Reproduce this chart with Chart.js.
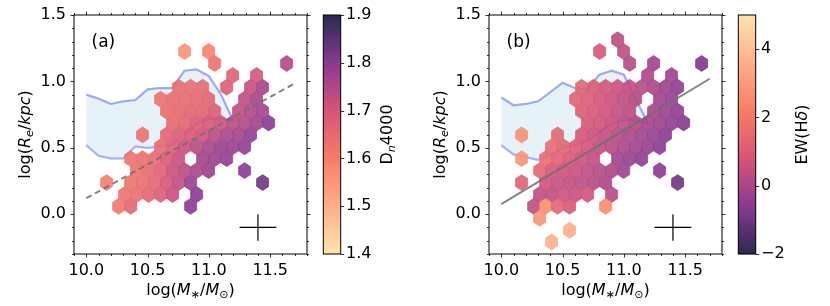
<!DOCTYPE html>
<html>
<head>
<meta charset="utf-8">
<script src="https://cdn.jsdelivr.net/npm/chart.js@4.4.1/dist/chart.umd.min.js"></script>
<style>
  body { margin: 0; background: #fff; }
  .panel { position: absolute; top: 0; width: 415px; height: 306px; }
</style>
</head>
<body>
<div class="panel" style="left:0"><canvas id="chartA" width="415" height="306"></canvas></div>
<div class="panel" style="left:415px"><canvas id="chartB" width="415" height="306"></canvas></div>
<script>
var xTicks = [10.0, 10.5, 11.0, 11.5];
var yTicks = [0.0, 0.5, 1.0, 1.5];
var dnTicks = [1.4, 1.5, 1.6, 1.7, 1.8, 1.9];
var ewTicks = [-2, 0, 2, 4];

// envelope of the comparison sample (blue region)
var envMass   = [10.0, 10.1, 10.2, 10.3, 10.4, 10.5, 10.6, 10.7, 10.8, 10.9, 11.0, 11.1, 11.2];
var envUpperA = [0.90, 0.87, 0.83, 0.85, 0.86, 0.94, 0.95, 0.95, 1.08, 1.09, 1.04, 0.90, 0.70];
var envLowerA = [0.52, 0.44, 0.42, 0.42, 0.51, 0.50, 0.51, 0.52, 0.60, 0.68, 0.72, 0.72, 0.70];
var envUpperB = [0.88, 0.82, 0.83, 0.85, 0.92, 0.99, 0.95, 0.94, 1.05, 1.08, 1.05, 0.86, 0.68];
var envLowerB = [0.52, 0.45, 0.43, 0.41, 0.45, 0.50, 0.52, 0.55, 0.62, 0.68, 0.71, 0.71, 0.68];

// best-fit relations
var fitA = [[10.0, 0.12], [11.7, 0.985]];
var fitB = [[10.0, 0.075], [11.7, 1.02]];

// typical error bar
var errCentre = [11.4, -0.1];
var errHalf = [0.15, 0.1];

// hexbin cells: [log M*, log Re, Dn4000]
var hexA = [
  [10.802, 1.225, 1.56], [10.998, 1.225, 1.59],
  [11.047, 1.135, 1.63], [11.634, 1.135, 1.75],
  [11.194, 1.045, 1.67], [11.389, 1.045, 1.70],
  [10.753, 0.956, 1.64], [10.851, 0.956, 1.64], [10.949, 0.956, 1.65], [11.145, 0.956, 1.68], [11.340, 0.956, 1.72], [11.438, 0.956, 1.76],
  [10.606, 0.866, 1.63], [10.704, 0.866, 1.64], [10.802, 0.866, 1.65], [10.900, 0.866, 1.65], [10.998, 0.866, 1.66], [11.291, 0.866, 1.73], [11.389, 0.866, 1.76],
  [10.655, 0.776, 1.64], [10.753, 0.776, 1.65], [10.851, 0.776, 1.66], [10.949, 0.776, 1.66], [11.047, 0.776, 1.68], [11.242, 0.776, 1.73], [11.340, 0.776, 1.75], [11.438, 0.776, 1.77],
  [10.704, 0.687, 1.65], [10.802, 0.687, 1.66], [10.900, 0.687, 1.68], [10.998, 0.687, 1.70], [11.096, 0.687, 1.71], [11.194, 0.687, 1.74], [11.291, 0.687, 1.75], [11.389, 0.687, 1.77], [11.487, 0.687, 1.80],
  [10.459, 0.597, 1.63], [10.655, 0.597, 1.66], [10.753, 0.597, 1.68], [10.851, 0.597, 1.70], [10.949, 0.597, 1.71], [11.047, 0.597, 1.74], [11.145, 0.597, 1.76], [11.242, 0.597, 1.77], [11.340, 0.597, 1.79],
  [10.606, 0.507, 1.65], [10.704, 0.507, 1.68], [10.802, 0.507, 1.72], [10.900, 0.507, 1.74], [10.998, 0.507, 1.76], [11.096, 0.507, 1.78], [11.194, 0.507, 1.78], [11.291, 0.507, 1.79],
  [10.362, 0.418, 1.63], [10.459, 0.418, 1.64], [10.557, 0.418, 1.65], [10.655, 0.418, 1.69], [10.753, 0.418, 1.72], [10.949, 0.418, 1.77], [11.047, 0.418, 1.78], [11.145, 0.418, 1.79],
  [10.410, 0.328, 1.63], [10.508, 0.328, 1.65], [10.606, 0.328, 1.67], [10.704, 0.328, 1.72], [10.802, 0.328, 1.74], [10.900, 0.328, 1.76], [10.998, 0.328, 1.78], [11.291, 0.328, 1.80],
  [10.166, 0.238, 1.60], [10.362, 0.238, 1.63], [10.459, 0.238, 1.64], [10.557, 0.238, 1.66], [10.655, 0.238, 1.70], [10.753, 0.238, 1.73], [10.851, 0.238, 1.78], [11.438, 0.238, 1.83],
  [10.313, 0.148, 1.63], [10.410, 0.148, 1.64], [10.508, 0.148, 1.66], [10.606, 0.148, 1.68], [10.704, 0.148, 1.72], [10.900, 0.148, 1.80],
  [10.264, 0.059, 1.62], [10.362, 0.059, 1.66], [10.851, 0.059, 1.80]
];

// hexbin cells: [log M*, log Re, EW(Hdelta)]
var hexB = [
  [10.949, 1.314, 0.3],
  [10.802, 1.225, 0.9], [10.998, 1.225, 0.3],
  [11.047, 1.135, 0.2], [11.242, 1.135, -0.2], [11.634, 1.135, -0.8],
  [11.194, 1.045, 0.0], [11.389, 1.045, -0.3],
  [10.655, 0.956, 1.3], [10.753, 0.956, 1.0], [10.851, 0.956, 0.8], [10.949, 0.956, 0.6], [11.047, 0.956, 0.4], [11.145, 0.956, 0.2], [11.242, 0.956, 0.0], [11.340, 0.956, -0.3], [11.438, 0.956, -0.5],
  [10.606, 0.866, 1.3], [10.704, 0.866, 1.1], [10.802, 0.866, 0.8], [10.900, 0.866, 0.6], [10.998, 0.866, 0.4], [11.096, 0.866, 0.2], [11.291, 0.866, -0.2], [11.389, 0.866, -0.4],
  [10.655, 0.776, 1.1], [10.753, 0.776, 0.9], [10.851, 0.776, 0.7], [10.949, 0.776, 0.5], [11.047, 0.776, 0.3], [11.242, 0.776, -0.1], [11.340, 0.776, -0.3], [11.438, 0.776, -0.5],
  [10.704, 0.687, 0.9], [10.802, 0.687, 0.7], [10.900, 0.687, 0.5], [10.998, 0.687, 0.3], [11.096, 0.687, 0.1], [11.194, 0.687, -0.1], [11.291, 0.687, -0.3], [11.389, 0.687, -0.5], [11.487, 0.687, -0.7],
  [10.166, 0.597, 2.7], [10.459, 0.597, 1.4], [10.655, 0.597, 0.8], [10.753, 0.597, 0.6], [10.851, 0.597, 0.4], [10.949, 0.597, 0.2], [11.047, 0.597, 0.0], [11.145, 0.597, -0.2], [11.242, 0.597, -0.4], [11.340, 0.597, -0.6],
  [10.410, 0.507, 1.6], [10.508, 0.507, 1.3], [10.606, 0.507, 1.0], [10.704, 0.507, 0.7], [10.802, 0.507, 0.4], [10.900, 0.507, 0.2], [10.998, 0.507, 0.0], [11.096, 0.507, -0.2], [11.194, 0.507, -0.4], [11.291, 0.507, -0.6],
  [10.166, 0.418, 2.8], [10.362, 0.418, 1.6], [10.459, 0.418, 1.2], [10.557, 0.418, 0.9], [10.655, 0.418, 0.6], [10.753, 0.418, 0.4], [10.949, 0.418, -0.2], [11.047, 0.418, -0.4], [11.145, 0.418, -0.5],
  [10.313, 0.328, 1.4], [10.410, 0.328, 0.8], [10.508, 0.328, 0.6], [10.606, 0.328, 0.5], [10.704, 0.328, 0.3], [10.802, 0.328, 0.2], [10.900, 0.328, 0.0], [10.998, 0.328, -0.3], [11.291, 0.328, -0.6],
  [10.166, 0.238, 1.2], [10.362, 0.238, 0.7], [10.459, 0.238, 0.5], [10.557, 0.238, 0.4], [10.655, 0.238, 0.3], [10.753, 0.238, 0.2], [10.851, 0.238, 0.0], [11.438, 0.238, -1.0],
  [10.313, 0.148, 0.3], [10.410, 0.148, 0.4], [10.508, 0.148, 0.6], [10.606, 0.148, 0.5], [10.704, 0.148, 0.7], [10.900, 0.148, 0.2],
  [10.264, 0.059, 0.3], [10.362, 0.059, 2.6], [10.459, 0.059, 1.3], [10.557, 0.059, 0.9], [10.851, 0.059, 2.5],
  [10.313, -0.031, 2.8],
  [10.557, -0.121, 3.5],
  [10.410, -0.210, 3.6]
];

// colour map as seen on the colour bars, light (0) to dark (1)
var cmapStops = [
  [0.0, [254, 227, 172]], [0.2, [253, 176, 136]], [0.4, [246, 125, 104]],
  [0.6, [214, 84, 120]], [0.8, [138, 58, 146]], [1.0, [42, 42, 82]]
];

function cmap(s) {
  s = Math.max(0, Math.min(1, s));
  for (let i = 1; i < cmapStops.length; i++) {
    if (s <= cmapStops[i][0]) {
      const a = cmapStops[i - 1], b = cmapStops[i];
      const f = (s - a[0]) / (b[0] - a[0]);
      const c = a[1].map((v, k) => Math.round(v + f * (b[1][k] - v)));
      return "rgb(" + c.join(",") + ")";
    }
  }
  return "rgb(42,42,82)";
}

function richText(ctx, parts, x, y, size, angle) {
  // parts: [text, italic, scale, shift(em)]
  const fontOf = p => (p[1] ? "italic " : "") + (size * p[2]).toFixed(1) + "px 'DejaVu Sans'";
  ctx.save();
  ctx.translate(x, y);
  ctx.rotate(angle);
  ctx.fillStyle = "#000";
  ctx.textBaseline = "alphabetic";
  ctx.textAlign = "left";
  let w = 0;
  parts.forEach(p => { ctx.font = fontOf(p); w += ctx.measureText(p[0]).width; });
  let cx = -w / 2;
  parts.forEach(p => {
    ctx.font = fontOf(p);
    ctx.fillText(p[0], cx, p[3] * size);
    cx += ctx.measureText(p[0]).width;
  });
  ctx.restore();
}

var xTitle = [["log(", false, 1, 0], ["M", true, 1, 0], ["\u2217", false, 0.7, 0.2], ["/", false, 1, 0],
              ["M", true, 1, 0], ["\u2299", false, 0.7, 0.2], [")", false, 1, 0]];
var yTitle = [["log(", false, 1, 0], ["R", true, 1, 0], ["e", true, 0.7, 0.2], ["/", false, 1, 0],
              ["kpc", true, 1, 0], [")", false, 1, 0]];

// per-canvas settings (kept out of the Chart.js options so they are not resolved)
var panelCfg = {};

var panelPlugin = {
  id: "panel",
  afterDatasetDraw(chart, args) {
    const ds = chart.data.datasets[args.index];
    if (!ds.hexes) return;
    const o = panelCfg[chart.canvas.id];
    const ctx = chart.ctx, xs = chart.scales.x, ys = chart.scales.y;
    const hw = 0.0489, h1 = 0.0299, h2 = 0.0598;
    ctx.save();
    ctx.beginPath();
    ctx.rect(chart.chartArea.left, chart.chartArea.top, chart.chartArea.width, chart.chartArea.height);
    ctx.clip();
    ds.data.forEach(p => {
      const col = cmap(o.toS(p.v));
      const pts = [[p.x + hw, p.y - h1], [p.x + hw, p.y + h1], [p.x, p.y + h2],
                   [p.x - hw, p.y + h1], [p.x - hw, p.y - h1], [p.x, p.y - h2]];
      ctx.beginPath();
      pts.forEach((q, i) => {
        const px = xs.getPixelForValue(q[0]), py = ys.getPixelForValue(q[1]);
        if (i === 0) ctx.moveTo(px, py); else ctx.lineTo(px, py);
      });
      ctx.closePath();
      ctx.globalAlpha = 0.9;
      ctx.fillStyle = col;
      ctx.fill();
      ctx.globalAlpha = 0.7;
      ctx.strokeStyle = col;
      ctx.lineWidth = 1;
      ctx.stroke();
    });
    ctx.restore();
  },
  afterDraw(chart) {
    const o = panelCfg[chart.canvas.id];
    const ctx = chart.ctx, a = chart.chartArea;
    const xs = chart.scales.x, ys = chart.scales.y, cb = chart.scales.cb;
    ctx.save();
    // frame
    ctx.strokeStyle = "#000";
    ctx.lineWidth = 1;
    ctx.strokeRect(a.left, a.top, a.width, a.height);
    // ticks on all four sides, pointing out
    ctx.lineWidth = 0.8;
    for (let i = 99; i <= 118; i++) {
      const px = Math.round(xs.getPixelForValue(i / 10)) + 0.5;
      const len = (i % 5 === 0) ? 3.5 : 2;
      ctx.beginPath();
      ctx.moveTo(px, a.bottom); ctx.lineTo(px, a.bottom + len);
      ctx.moveTo(px, a.top); ctx.lineTo(px, a.top - len);
      ctx.stroke();
    }
    for (let i = -3; i <= 15; i++) {
      const py = Math.round(ys.getPixelForValue(i / 10)) + 0.5;
      const len = (i % 5 === 0) ? 3.5 : 2;
      ctx.beginPath();
      ctx.moveTo(a.left, py); ctx.lineTo(a.left - len, py);
      ctx.moveTo(a.right, py); ctx.lineTo(a.right + len, py);
      ctx.stroke();
    }
    // colour bar
    const bx = a.right + 16.3, bw = 17.4;
    const yTop = cb.getPixelForValue(cb.max), yBot = cb.getPixelForValue(cb.min);
    for (let p = yBot; p > yTop; p -= 1) {
      const v = cb.getValueForPixel(p - 0.5);
      ctx.fillStyle = cmap(o.toS(v));
      ctx.fillRect(bx, p - 1, bw, 1.2);
    }
    ctx.strokeStyle = "#000";
    ctx.lineWidth = 1;
    ctx.strokeRect(bx, yTop, bw, yBot - yTop);
    ctx.lineWidth = 0.8;
    cb.ticks.forEach(t => {
      const py = Math.round(cb.getPixelForValue(t.value)) + 0.5;
      ctx.beginPath(); ctx.moveTo(bx + bw, py); ctx.lineTo(bx + bw + 3.5, py); ctx.stroke();
    });
    ctx.restore();
    // labels
    const midY = (a.top + a.bottom) / 2;
    richText(ctx, xTitle, (a.left + a.right) / 2, 295, 16, 0);
    richText(ctx, yTitle, 30, midY, 16, -Math.PI / 2);
    richText(ctx, o.cbTitle, 392, midY, 16, -Math.PI / 2);
    ctx.save();
    ctx.font = "17px 'DejaVu Sans'";
    ctx.fillStyle = "#000";
    ctx.fillText(o.tag, a.left + 17.5, a.top + 32);
    ctx.restore();
  }
};

function makePanel(id, o) {
  panelCfg[id] = o;
  const pts = arr => arr.map(p => ({ x: p[0], y: p[1] }));
  const font = { family: "'DejaVu Sans'", size: 16 };
  // invisible tick marks give the label offset without adding vertical padding
  const spacer = len => ({ display: true, drawOnChartArea: false, drawTicks: true, tickLength: len, color: "rgba(0,0,0,0)" });
  return new Chart(document.getElementById(id), {
    type: "scatter",
    data: {
      datasets: [
        { type: "line", data: pts([[errCentre[0] - errHalf[0], errCentre[1]], [errCentre[0] + errHalf[0], errCentre[1]]]),
          borderColor: "#000", borderWidth: 1.2, pointRadius: 0 },
        { type: "line", data: pts([[errCentre[0], errCentre[1] - errHalf[1]], [errCentre[0], errCentre[1] + errHalf[1]]]),
          borderColor: "#000", borderWidth: 1.2, pointRadius: 0 },
        { type: "line", data: pts(o.fit), borderColor: "rgba(110,110,110,0.85)", borderWidth: 2,
          borderDash: o.dash, pointRadius: 0 },
        { type: "scatter", data: o.hexes.map(h => ({ x: h[0], y: h[1], v: h[2] })), pointRadius: 0, hexes: true },
        { type: "line", data: envMass.map((m, i) => ({ x: m, y: o.upper[i] })), borderColor: "rgba(105,120,250,0.62)",
          borderWidth: 2.2, pointRadius: 0, fill: "+1", backgroundColor: "rgba(173,216,230,0.32)" },
        { type: "line", data: envMass.map((m, i) => ({ x: m, y: o.lower[i] })), borderColor: "rgba(105,120,250,0.62)",
          borderWidth: 2.2, pointRadius: 0 }
      ]
    },
    options: {
      responsive: false,
      animation: false,
      events: [],
      layout: { padding: { top: 15 } },
      plugins: { legend: { display: false }, tooltip: { enabled: false } },
      scales: {
        x: {
          type: "linear", position: "bottom", min: 9.9, max: 11.8,
          afterBuildTicks: s => { s.ticks = xTicks.map(v => ({ value: v })); },
          afterFit: s => { s.height = 52; },
          grid: spacer(4), border: { display: false },
          ticks: { padding: 3, color: "#000", font: font, autoSkip: false, maxRotation: 0,
                   callback: v => v.toFixed(1) }
        },
        y: {
          type: "linear", position: "left", min: -0.3, max: 1.5,
          afterBuildTicks: s => { s.ticks = yTicks.map(v => ({ value: v })); },
          afterFit: s => { s.width = 74; },
          grid: spacer(5), border: { display: false },
          ticks: { padding: 3, color: "#000", font: font, autoSkip: false,
                   callback: v => v.toFixed(1) }
        },
        cb: {
          type: "linear", position: "right", min: o.cbMin, max: o.cbMax,
          afterBuildTicks: s => { s.ticks = o.cbTicks.map(v => ({ value: v })); },
          afterFit: s => { s.width = 108; },
          grid: spacer(36), border: { display: false },
          ticks: { padding: 3, color: "#000", font: font, autoSkip: false,
                   callback: o.cbLabel }
        }
      }
    },
    plugins: [panelPlugin]
  });
}

makePanel("chartA", {
  hexes: hexA, upper: envUpperA, lower: envLowerA, fit: fitA, dash: [6, 4],
  cbMin: 1.4, cbMax: 1.9, cbTicks: dnTicks, cbLabel: v => v.toFixed(1),
  toS: v => (v - 1.4) / 0.5, tag: "(a)",
  cbTitle: [["D", false, 1, 0], ["n", true, 0.7, 0.2], ["4000", false, 1, 0]]
});

makePanel("chartB", {
  hexes: hexB, upper: envUpperB, lower: envLowerB, fit: fitB, dash: [],
  cbMin: -2, cbMax: 5, cbTicks: ewTicks, cbLabel: v => String(v).replace("-", "\u2212"),
  toS: v => (5 - v) / 7, tag: "(b)",
  cbTitle: [["EW(H", false, 1, 0], ["\u03b4", true, 1, 0], [")", false, 1, 0]]
});
</script>
</body>
</html>
